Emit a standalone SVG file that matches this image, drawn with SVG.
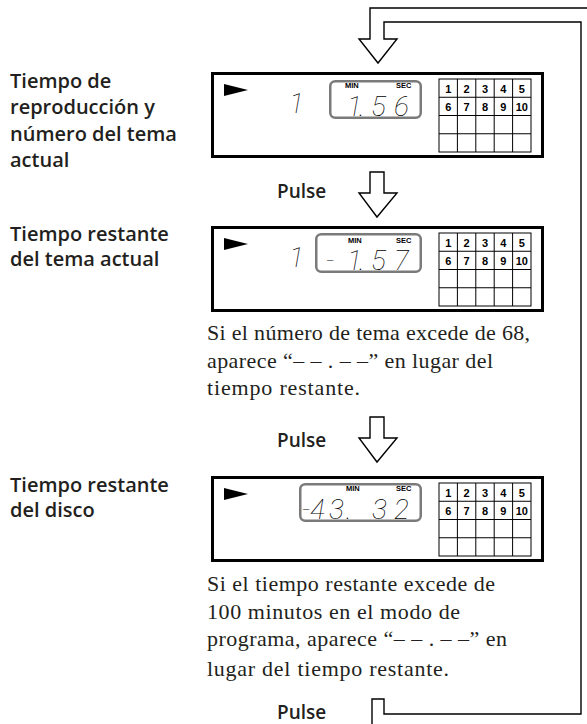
<svg xmlns="http://www.w3.org/2000/svg" width="587" height="724" viewBox="0 0 587 724">
<style>
.lbl{font-family:"Open Sans","Liberation Sans",sans-serif;font-weight:600;font-size:20px;fill:#231f20}
.pulse{font-family:"Open Sans","Liberation Sans",sans-serif;font-weight:600;font-size:19px;fill:#231f20}
.note{font-family:"Liberation Serif","DejaVu Serif",serif;font-size:22px;fill:#231f20}
.frame{fill:#fff;stroke:#000;stroke-width:3}
.lcd{fill:#fff;stroke:#7a7a7a;stroke-width:2.5}
.grid{fill:none;stroke:#000;stroke-width:1}
.num{font-family:"Liberation Sans",Arial,sans-serif;font-weight:bold;font-size:11px;text-anchor:middle;fill:#000}
.ms{font-family:"Liberation Sans",Arial,sans-serif;font-weight:bold;font-size:7.5px;fill:#000}
.seg{font-family:Roboto,Inter,"DejaVu Sans",sans-serif;font-weight:100;font-size:28px;font-style:italic;fill:#000}
.conn{fill:#fff;stroke:#000;stroke-width:1.4;stroke-linejoin:miter}
</style>
<defs>
<g id="gridlines">
<rect x="439" y="7" width="92" height="73" class="grid"/>
<path class="grid" d="M457.4 7V80M475.8 7V80M494.2 7V80M512.6 7V80M439 25.25H531M439 43.5H531M439 61.75H531"/>
</g>
</defs>

<g id="connectors">
<polygon class="conn" points="372,730 372,699 384,699 384,714 581,714 581,22 384,22 384,39 397,39 378,63 359,39 370,39 370,8 600,8 600,730"/>
<polygon class="conn" points="370,172 384,172 384,193 397,193 377,217 359,193 370,193"/>
<polygon class="conn" points="370,417 384,417 384,438 397,438 377,462 359,438 370,438"/>
</g>

<g id="display1" transform="translate(0,72)">
<rect class="frame" x="212.5" y="1.5" width="330" height="83"/>
<polygon points="224,12 248,18 224,24" fill="#000"/>
<text class="seg" x="289" y="41" font-size="30">1</text>
<rect class="lcd" x="330.25" y="9.25" width="90.5" height="36.5" rx="5"/>
<text class="ms" x="345" y="16">MIN</text>
<text class="ms" x="396" y="16">SEC</text>
<text class="seg" x="347 359 371 394" y="44">1.56</text>
<use href="#gridlines"/>
<text class="num"><tspan x="448.2" y="21">1</tspan><tspan x="466.6" y="21">2</tspan><tspan x="485" y="21">3</tspan><tspan x="503.4" y="21">4</tspan><tspan x="521.8" y="21">5</tspan></text>
<text class="num"><tspan x="448.2" y="39.3">6</tspan><tspan x="466.6" y="39.3">7</tspan><tspan x="485" y="39.3">8</tspan><tspan x="503.4" y="39.3">9</tspan><tspan x="521.8" y="39.3">10</tspan></text>
</g>

<g id="display2" transform="translate(0,226)">
<rect class="frame" x="212.5" y="1.5" width="330" height="83"/>
<polygon points="224,12 248,18 224,24" fill="#000"/>
<text class="seg" x="289" y="41" font-size="30">1</text>
<rect class="lcd" x="316.25" y="8.25" width="104.5" height="37.5" rx="5"/>
<text class="ms" x="348" y="17">MIN</text>
<text class="ms" x="396" y="17">SEC</text>
<text class="seg" x="326 347 359 371 394" y="44">-1.57</text>
<use href="#gridlines"/>
<text class="num"><tspan x="448.2" y="21">1</tspan><tspan x="466.6" y="21">2</tspan><tspan x="485" y="21">3</tspan><tspan x="503.4" y="21">4</tspan><tspan x="521.8" y="21">5</tspan></text>
<text class="num"><tspan x="448.2" y="39.3">6</tspan><tspan x="466.6" y="39.3">7</tspan><tspan x="485" y="39.3">8</tspan><tspan x="503.4" y="39.3">9</tspan><tspan x="521.8" y="39.3">10</tspan></text>
</g>

<g id="display3" transform="translate(0,476)">
<rect class="frame" x="212.5" y="1.5" width="330" height="83"/>
<polygon points="224,12 248,18 224,24" fill="#000"/>
<rect class="lcd" x="300.25" y="8.25" width="120.5" height="36.5" rx="5"/>
<text class="ms" x="346" y="15">MIN</text>
<text class="ms" x="396" y="15">SEC</text>
<text class="seg" x="302 310 329 346 372 394" y="43" font-size="27">-43.32</text>
<use href="#gridlines"/>
<text class="num"><tspan x="448.2" y="21">1</tspan><tspan x="466.6" y="21">2</tspan><tspan x="485" y="21">3</tspan><tspan x="503.4" y="21">4</tspan><tspan x="521.8" y="21">5</tspan></text>
<text class="num"><tspan x="448.2" y="39.3">6</tspan><tspan x="466.6" y="39.3">7</tspan><tspan x="485" y="39.3">8</tspan><tspan x="503.4" y="39.3">9</tspan><tspan x="521.8" y="39.3">10</tspan></text>
</g>

<g id="label1">
<text class="lbl" x="10" y="88">Tiempo de</text>
<text class="lbl" x="10" y="114">reproducción y</text>
<text class="lbl" x="10" y="141">número del tema</text>
<text class="lbl" x="10" y="167">actual</text>
</g>
<g id="label2">
<text class="lbl" x="10" y="241">Tiempo restante</text>
<text class="lbl" x="10" y="266">del tema actual</text>
</g>
<g id="label3">
<text class="lbl" x="10" y="492">Tiempo restante</text>
<text class="lbl" x="10" y="517">del disco</text>
</g>

<g id="pulse1"><text class="pulse" x="277" y="198">Pulse</text></g>
<g id="pulse2"><text class="pulse" x="277" y="447">Pulse</text></g>
<g id="pulse3"><text class="pulse" x="277" y="719">Pulse</text></g>

<g id="note1">
<text class="note" x="207" y="340" textLength="323" lengthAdjust="spacing">Si el número de tema excede de 68,</text>
<text class="note" x="207" y="367.5" textLength="286" lengthAdjust="spacing">aparece “– – . – –” en lugar del</text>
<text class="note" x="207" y="395" textLength="153" lengthAdjust="spacing">tiempo restante.</text>
</g>
<g id="note2">
<text class="note" x="207" y="591" textLength="288" lengthAdjust="spacing">Si el tiempo restante excede de</text>
<text class="note" x="207" y="618.5" textLength="253" lengthAdjust="spacing">100 minutos en el modo de</text>
<text class="note" x="207" y="646" textLength="300" lengthAdjust="spacing">programa, aparece “– – . – –” en</text>
<text class="note" x="207" y="676" textLength="242" lengthAdjust="spacing">lugar del tiempo restante.</text>
</g>
</svg>
